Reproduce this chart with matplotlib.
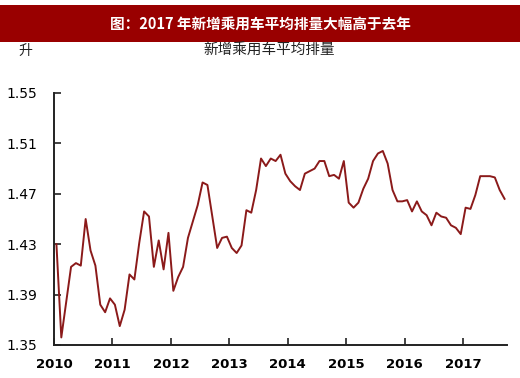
import numpy as np
import matplotlib.pyplot as plt
from matplotlib.patches import Rectangle

plt.rcParams['font.family'] = ['DejaVu Sans', 'Noto Sans CJK SC']

title = '图：2017 年新增乘用车平均排量大幅高于去年'
series_name = '新增乘用车平均排量'
unit = '升'

# monthly average engine displacement, Jan 2010 - Sep 2017
displacement = [
    1.430, 1.356, 1.384, 1.412, 1.415, 1.413, 1.450, 1.425, 1.413, 1.382, 1.376, 1.387,
    1.382, 1.365, 1.378, 1.406, 1.402, 1.431, 1.456, 1.452, 1.412, 1.433, 1.410, 1.439,
    1.393, 1.404, 1.412, 1.435, 1.448, 1.461, 1.479, 1.477, 1.452, 1.427, 1.435, 1.436,
    1.427, 1.423, 1.429, 1.457, 1.455, 1.473, 1.498, 1.492, 1.498, 1.496, 1.501, 1.486,
    1.480, 1.476, 1.473, 1.486, 1.488, 1.490, 1.496, 1.496, 1.484, 1.485, 1.482, 1.496,
    1.463, 1.459, 1.463, 1.474, 1.482, 1.496, 1.502, 1.504, 1.494, 1.473, 1.464, 1.464,
    1.465, 1.456, 1.464, 1.456, 1.453, 1.445, 1.455, 1.452, 1.451, 1.445, 1.443, 1.438,
    1.459, 1.458, 1.469, 1.484, 1.484, 1.484, 1.483, 1.473, 1.466,
]
years = [2010, 2011, 2012, 2013, 2014, 2015, 2016, 2017]
y_ticks = [1.35, 1.39, 1.43, 1.47, 1.51, 1.55]

x = 2010 + (np.arange(len(displacement)) + 0.5) / 12

fig = plt.figure(figsize=(5.2, 3.78), dpi=100)
fig.patches.append(Rectangle((0, 1 - 42 / 378), 1, 37 / 378, transform=fig.transFigure,
                             facecolor='#990000', edgecolor='none', zorder=0))
fig.text(0.5, 1 - 23.5 / 378, title, color='white', fontsize=10.5, fontweight='bold',
         ha='center', va='center', family=['Noto Sans CJK SC', 'DejaVu Sans'])
fig.text(0.048, 1 - 51 / 378, unit, fontsize=10, ha='center', va='center',
         family=['Noto Sans CJK SC'], color='#222222')
fig.text(0.517, 1 - 51 / 378, series_name, fontsize=10.5, ha='center', va='center',
         family=['Noto Sans CJK SC'], color='#222222')

ax = fig.add_axes([54 / 520, 1 - 345 / 378, (507 - 54) / 520, (345 - 93) / 378])
ax.plot(x, displacement, color='#8B1A1A', lw=1.4)

ax.set_xlim(2010, 2010 + 93 / 12)
ax.set_ylim(1.35, 1.55)
ax.set_xticks(years)
ax.set_xticklabels([str(y) for y in years], fontsize=9.5, fontweight='bold')
ax.set_yticks(y_ticks)
ax.set_yticklabels([f'{v:.2f}' for v in y_ticks], fontsize=10)
ax.tick_params(axis='both', direction='in', length=5, width=1.2, color='#222222')
ax.tick_params(axis='y', pad=12)
ax.tick_params(axis='x', pad=9)
for s in ['top', 'right']:
    ax.spines[s].set_visible(False)
for s in ['left', 'bottom']:
    ax.spines[s].set_linewidth(1.4)
    ax.spines[s].set_color('#222222')

fig.savefig('out.png', dpi=100)
